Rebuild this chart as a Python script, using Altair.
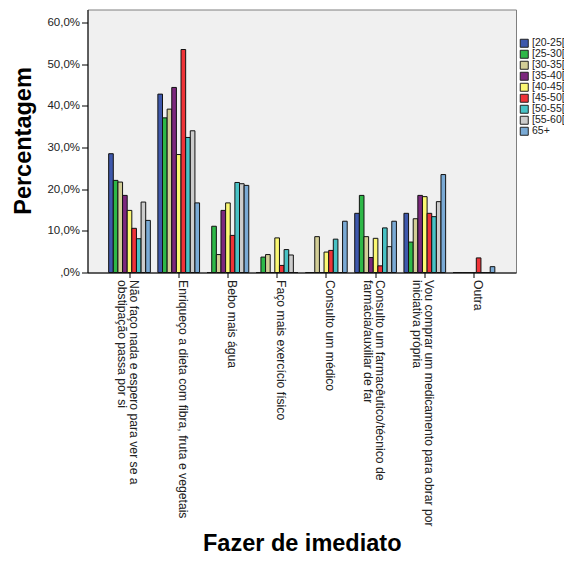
import json
import altair as alt
import pandas as pd

CATEGORIES = [
    "Não faço nada e espero para ver se a obstipação passa por si",
    "Enriqueço a dieta com fibra, fruta e vegetais",
    "Bebo mais água",
    "Faço mais exercício físico",
    "Consulto um médico",
    "Consulto um farmacêutico/técnico de farmácia/auxiliar de far",
    "Vou comprar um medicamento para obrar por iniciativa própria",
    "Outra",
]
# two-line tick labels as they are wrapped in the original
WRAPPED = {
    CATEGORIES[0]: ["Não faço nada e espero para ver se a", "obstipação passa por si"],
    CATEGORIES[5]: ["Consulto um farmacêutico/técnico de", "farmácia/auxiliar de far"],
    CATEGORIES[6]: ["Vou comprar um medicamento para obrar por", "iniciativa própria"],
}

AGE_GROUPS = ["[20-25[", "[25-30[", "[30-35[", "[35-40[", "[40-45[",
              "[45-50[", "[50-55[", "[55-60[", "65+"]
COLORS = ["#3E58AC", "#2EB848", "#D3CE97", "#7C287D", "#FBF873",
          "#EF3338", "#48C2C5", "#CCCCCC", "#7AAAD5"]

# percentage per category, one list per age group
V_20_25 = [28.5, 42.8, 0.0, 0.0, 0.0, 14.2, 14.2, 0.0]
V_25_30 = [22.1, 37.1, 11.1, 3.7, 0.0, 18.5, 7.3, 0.0]
V_30_35 = [21.7, 39.2, 4.3, 4.3, 8.6, 8.6, 12.9, 0.0]
V_35_40 = [18.5, 44.4, 14.9, 0.0, 0.0, 3.6, 18.5, 0.0]
V_40_45 = [14.9, 28.3, 16.7, 8.3, 4.9, 8.2, 18.2, 0.0]
V_45_50 = [10.6, 53.5, 8.9, 1.7, 5.3, 1.6, 14.2, 3.5]
V_50_55 = [8.1, 32.4, 21.6, 5.5, 8.0, 10.7, 13.4, 0.0]
V_55_60 = [16.9, 34.0, 21.3, 4.2, 0.0, 6.2, 17.0, 0.0]
V_65 = [12.5, 16.7, 20.9, 0.0, 12.3, 12.3, 23.5, 1.4]
SERIES = [V_20_25, V_25_30, V_30_35, V_35_40, V_40_45, V_45_50, V_50_55, V_55_60, V_65]

Y_TICKS = [0, 10, 20, 30, 40, 50, 60]

rows = []
for g, vals in zip(AGE_GROUPS, SERIES):
    for c, v in zip(CATEGORIES, vals):
        rows.append({"cat": c, "age": g, "pct": v})
df = pd.DataFrame(rows)

# label expression for wrapped x labels
expr = "datum.label"
for full, lines in WRAPPED.items():
    expr = f"datum.label == {json.dumps(full, ensure_ascii=False)} ? {json.dumps(lines, ensure_ascii=False)} : ({expr})"

FONT = "Liberation Sans"

chart = alt.Chart(df).mark_bar(stroke="#111111", strokeWidth=1).encode(
    x=alt.X(
        "cat:N",
        sort=CATEGORIES,
        scale=alt.Scale(paddingInner=0.153, paddingOuter=0.43),
        axis=alt.Axis(
            title="Fazer de imediato",
            titleFont=FONT,
            titleFontSize=23.5,
            titleFontWeight="bold",
            titleColor="#000000",
            titleX=214.25,
            titleY=277.5,
            titleAlign="center",
            titleBaseline="alphabetic",
            labelAngle=90,
            labelAlign="left",
            labelBaseline="alphabetic",
            labelExpr=expr,
            labelFont=FONT,
            labelFontSize=12.2,
            labelColor="#222222",
            labelLimit=600,
            labelLineHeight=12,
            labelPadding=2,
            labelOverlap=False,
            tickSize=5,
            tickColor="#000000",
            domainColor="#000000",
            grid=False,
        ),
    ),
    xOffset=alt.XOffset("age:N", sort=AGE_GROUPS,
                        scale=alt.Scale(paddingInner=0, paddingOuter=0)),
    y=alt.Y(
        "pct:Q",
        scale=alt.Scale(domain=[0, 63.1], nice=False, zero=True),
        axis=alt.Axis(
            title="Percentagem",
            titleFont=FONT,
            titleFontSize=23.5,
            titleFontWeight="bold",
            titleColor="#000000",
            titleAngle=270,
            titleX=-57.4,
            titleY=131,
            titleAlign="center",
            titleBaseline="alphabetic",
            values=Y_TICKS,
            labelExpr='datum.value == 0 ? ",0%" : replace(format(datum.value, ".1f"), ".", ",") + "%"',
            labelFont=FONT,
            labelFontSize=11.5,
            labelColor="#222222",
            labelPadding=2,
            tickSize=6,
            tickColor="#000000",
            domainColor="#000000",
            grid=False,
        ),
    ),
    color=alt.Color(
        "age:N",
        sort=AGE_GROUPS,
        scale=alt.Scale(domain=AGE_GROUPS, range=COLORS),
        legend=alt.Legend(
            title=None,
            orient="none",
            legendX=431.5,
            legendY=28.5,
            padding=0,
            rowPadding=0,
            clipHeight=10.5,
            symbolType="square",
            symbolSize=64,
            symbolStrokeColor="#222222",
            symbolStrokeWidth=1,
            labelFont=FONT,
            labelFontSize=10.5,
            labelColor="#222222",
            labelOffset=2.5,
        ),
    ),
).properties(
    width=428.5,
    height=263,
    autosize=alt.AutoSizeParams(type="none"),
    padding={"left": 79.5, "top": 1.5, "right": 48, "bottom": 282.5},
    background="#FFFFFF",
).configure_view(
    fill="#F0F0F0",
    stroke="#7F7F7F",
    strokeWidth=1,
)

chart.save("out.html", embed_options={"renderer": "svg", "actions": False})
